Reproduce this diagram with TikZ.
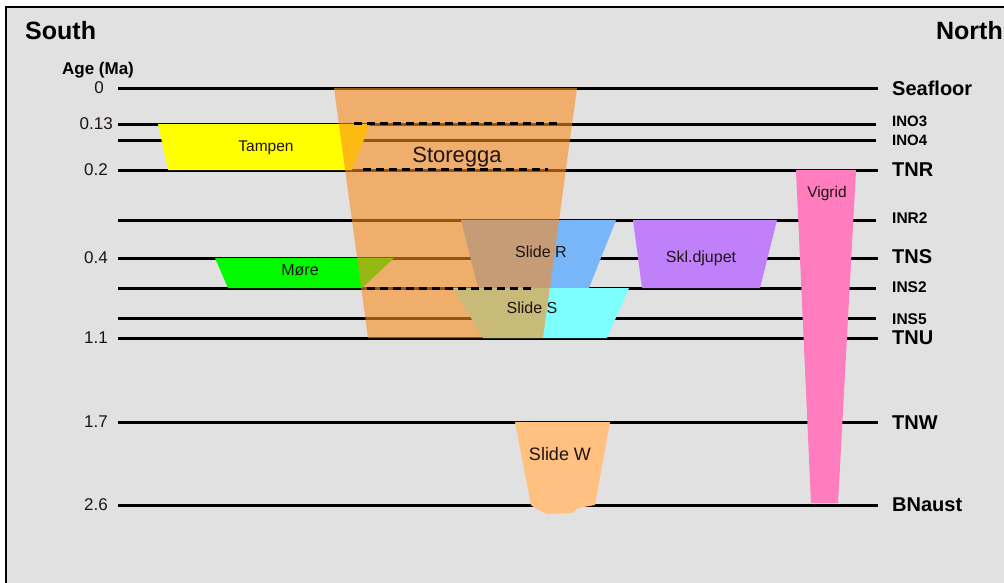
\documentclass[tikz,border=0pt]{standalone}
\usepackage{fontspec}
\setmainfont{Liberation Sans}
\definecolor{bg}{RGB}{225,225,225}
\definecolor{stor}{RGB}{250,140,30}
\definecolor{tamp}{RGB}{255,255,0}
\definecolor{more}{RGB}{0,250,0}
\definecolor{slr}{RGB}{120,182,250}
\definecolor{sls}{RGB}{125,255,255}
\definecolor{skl}{RGB}{192,128,250}
\definecolor{vig}{RGB}{255,125,190}
\definecolor{slw}{RGB}{255,192,128}
\definecolor{txt}{RGB}{30,20,20}
\begin{document}
\begin{tikzpicture}[x=1pt,y=-1pt,
  hz/.style={line width=3pt,black},
  dsh/.style={line width=3pt,black,dash pattern=on 8pt off 5pt},
  fs/.style={font=\fontsize{#1}{#1}\selectfont},
  lab/.style={inner sep=0pt,text=txt,fs=#1},
  rlab/.style={inner sep=0pt,anchor=west,font=\fontsize{#1}{#1}\selectfont\bfseries},
  age/.style={inner sep=0pt,anchor=east,fs=17,text=txt}]
\useasboundingbox (0,0) rectangle (1004,582);
\fill[white] (0,0) rectangle (1004,582);
\fill[bg] (6,7) rectangle (1010,590);
\draw[line width=2.5pt] (6,590) -- (6,7) -- (1010,7);
% horizons
\draw[hz] (118,88) -- (878,88);
\draw[hz] (118,124) -- (876,124);
\draw[hz] (118,140) -- (876,140);
\draw[hz] (118,170) -- (878,170);
\draw[hz] (118,220) -- (876,220);
\draw[hz] (118,258) -- (878,258);
\draw[hz] (118,288) -- (876,288);
\draw[hz] (118,318) -- (876,318);
\draw[hz] (118,338) -- (878,338);
\draw[hz] (118,422) -- (878,422);
\draw[hz] (118,505) -- (878,505);
% slide bodies
\fill[tamp] (158,124) -- (370,124) -- (352,170) -- (168,170) -- cycle;
\fill[more] (215,258) -- (394,258) -- (362,288) -- (228,288) -- cycle;
\fill[slr] (461,220) -- (616,220) -- (589,288) -- (478,288) -- cycle;
\fill[sls] (453,288) -- (629,288) -- (607,338) -- (483,338) -- cycle;
\fill[skl] (633,220) -- (777,220) -- (760,288) -- (642,288) -- cycle;
\fill[vig] (796,170) -- (856,170) -- (838,503) -- (811,503) -- cycle;
\fill[slw] (515,422) -- (610,422) -- (595,505) -- (578,508) -- (572,513) -- (547,514) -- (537,509) -- (531,505) -- cycle;
\fill[stor,opacity=0.6] (334,88) -- (577,88) -- (543,338) -- (368,338) -- cycle;
% dashed horizons in Storegga
\draw[dsh] (354,123) -- (557,123);
\draw[dsh] (363,169) -- (548,169);
\draw[dsh] (367,288) -- (532,288);
% titles
\node[inner sep=0pt,anchor=west,font=\fontsize{25}{25}\selectfont\bfseries] (south) at (25,31) {South};
\node[inner sep=0pt,anchor=east,font=\fontsize{25}{25}\selectfont\bfseries] (north) at (1003,31) {North};
\node[inner sep=0pt,font=\fontsize{17}{17}\selectfont\bfseries] (agehd) at (98,70) {Age (Ma)};
% ages
\node[age] (a0) at (104,88) {0};
\node[age] (a013) at (113,124) {0.13};
\node[age] (a02) at (108,170) {0.2};
\node[age] (a04) at (108,258) {0.4};
\node[age] (a11) at (108,338) {1.1};
\node[age] (a17) at (108,422) {1.7};
\node[age] (a26) at (108,505) {2.6};
% horizon names
\node[rlab=20] (sea) at (892,88) {Seafloor};
\node[rlab=15] (ino3) at (892,121) {INO3};
\node[rlab=15] (ino4) at (892,140) {INO4};
\node[rlab=20] (tnr) at (892,170) {TNR};
\node[rlab=15.5] (inr2) at (892,218) {INR2};
\node[rlab=20] (tns) at (892,257) {TNS};
\node[rlab=15.5] (ins2) at (892,287) {INS2};
\node[rlab=15.5] (ins5) at (892,319) {INS5};
\node[rlab=20] (tnu) at (892,338) {TNU};
\node[rlab=20] (tnw) at (892,423) {TNW};
\node[rlab=20] (bna) at (892,505) {BNaust};
% slide names
\node[lab=15.5] (ltamp) at (266,148) {Tampen};
\node[lab=22] (lstor) at (457,157) {Storegga};
\node[lab=16] (lslr) at (541,252) {Slide R};
\node[lab=16] (lsls) at (532,308) {Slide S};
\node[lab=16] (lmore) at (300,270) {Møre};
\node[lab=16] (lskl) at (701,258) {Skl.djupet};
\node[lab=15.5] (lvig) at (827,193) {Vigrid};
\node[lab=18] (lslw) at (560,454) {Slide W};
\end{tikzpicture}
\end{document}
